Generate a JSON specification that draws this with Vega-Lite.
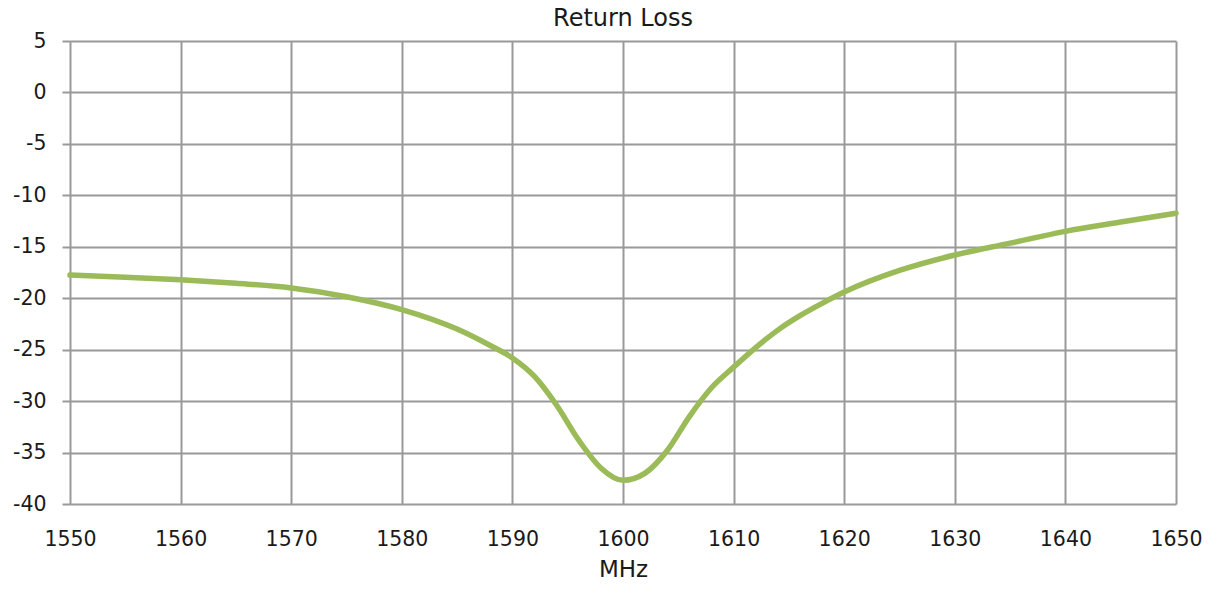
{
  "$schema": "https://vega.github.io/schema/vega-lite/v6.json",
  "autosize": "none",
  "width": 1106,
  "height": 463,
  "padding": {"left": 70, "top": 41, "right": 35, "bottom": 86},
  "background": "white",
  "config": {
    "view": {"stroke": null},
    "font": "DejaVu Sans"
  },
  "title": {
    "text": "Return Loss",
    "fontSize": 24,
    "fontWeight": "normal",
    "color": "#1a1a1a",
    "anchor": "middle",
    "offset": 0
  },
  "data": {
    "values": [
      {"MHz": 1550, "RL": -17.75},
      {"MHz": 1555, "RL": -17.95},
      {"MHz": 1560, "RL": -18.2},
      {"MHz": 1565, "RL": -18.55},
      {"MHz": 1570, "RL": -19.0},
      {"MHz": 1575, "RL": -19.85},
      {"MHz": 1580, "RL": -21.1},
      {"MHz": 1585, "RL": -23.0},
      {"MHz": 1588, "RL": -24.6},
      {"MHz": 1590, "RL": -25.8},
      {"MHz": 1592, "RL": -27.6},
      {"MHz": 1594, "RL": -30.4},
      {"MHz": 1596, "RL": -33.8},
      {"MHz": 1598, "RL": -36.5},
      {"MHz": 1600, "RL": -37.7},
      {"MHz": 1602, "RL": -37.0},
      {"MHz": 1604, "RL": -34.8},
      {"MHz": 1606, "RL": -31.5},
      {"MHz": 1608, "RL": -28.7},
      {"MHz": 1610, "RL": -26.7},
      {"MHz": 1612, "RL": -24.8},
      {"MHz": 1614, "RL": -23.1},
      {"MHz": 1616, "RL": -21.7},
      {"MHz": 1618, "RL": -20.5},
      {"MHz": 1620, "RL": -19.4},
      {"MHz": 1625, "RL": -17.3},
      {"MHz": 1630, "RL": -15.8},
      {"MHz": 1635, "RL": -14.65},
      {"MHz": 1640, "RL": -13.5},
      {"MHz": 1645, "RL": -12.6},
      {"MHz": 1650, "RL": -11.75}
    ]
  },
  "mark": {"type": "line", "interpolate": "monotone", "color": "#9BBB59", "strokeWidth": 5.5, "strokeCap": "round"},
  "encoding": {
    "x": {
      "field": "MHz",
      "type": "quantitative",
      "scale": {"domain": [1550, 1650], "nice": false, "zero": false},
      "axis": {
        "values": [1550, 1560, 1570, 1580, 1590, 1600, 1610, 1620, 1630, 1640, 1650],
        "labelExpr": "'' + datum.value",
        "title": "MHz",
        "titleFontSize": 23,
        "titleFontWeight": "normal",
        "titleColor": "#1a1a1a",
        "titlePadding": 9,
        "labelFontSize": 20.5,
        "labelColor": "#1a1a1a",
        "labelPadding": 25,
        "ticks": false,
        "domain": false,
        "grid": true,
        "gridColor": "#999999",
        "gridWidth": 2,
        "gridOpacity": 1,
        "labelFlush": false
      }
    },
    "y": {
      "field": "RL",
      "type": "quantitative",
      "scale": {"domain": [-40, 5], "nice": false, "zero": false},
      "axis": {
        "values": [5, 0, -5, -10, -15, -20, -25, -30, -35, -40],
        "labelExpr": "'' + datum.value",
        "title": null,
        "labelFontSize": 20.5,
        "labelColor": "#1a1a1a",
        "labelPadding": 16,
        "ticks": true,
        "tickSize": 8,
        "tickColor": "#999999",
        "tickWidth": 2,
        "domain": false,
        "grid": true,
        "gridColor": "#999999",
        "gridWidth": 2,
        "gridOpacity": 1,
        "labelFlush": false
      }
    }
  }
}
